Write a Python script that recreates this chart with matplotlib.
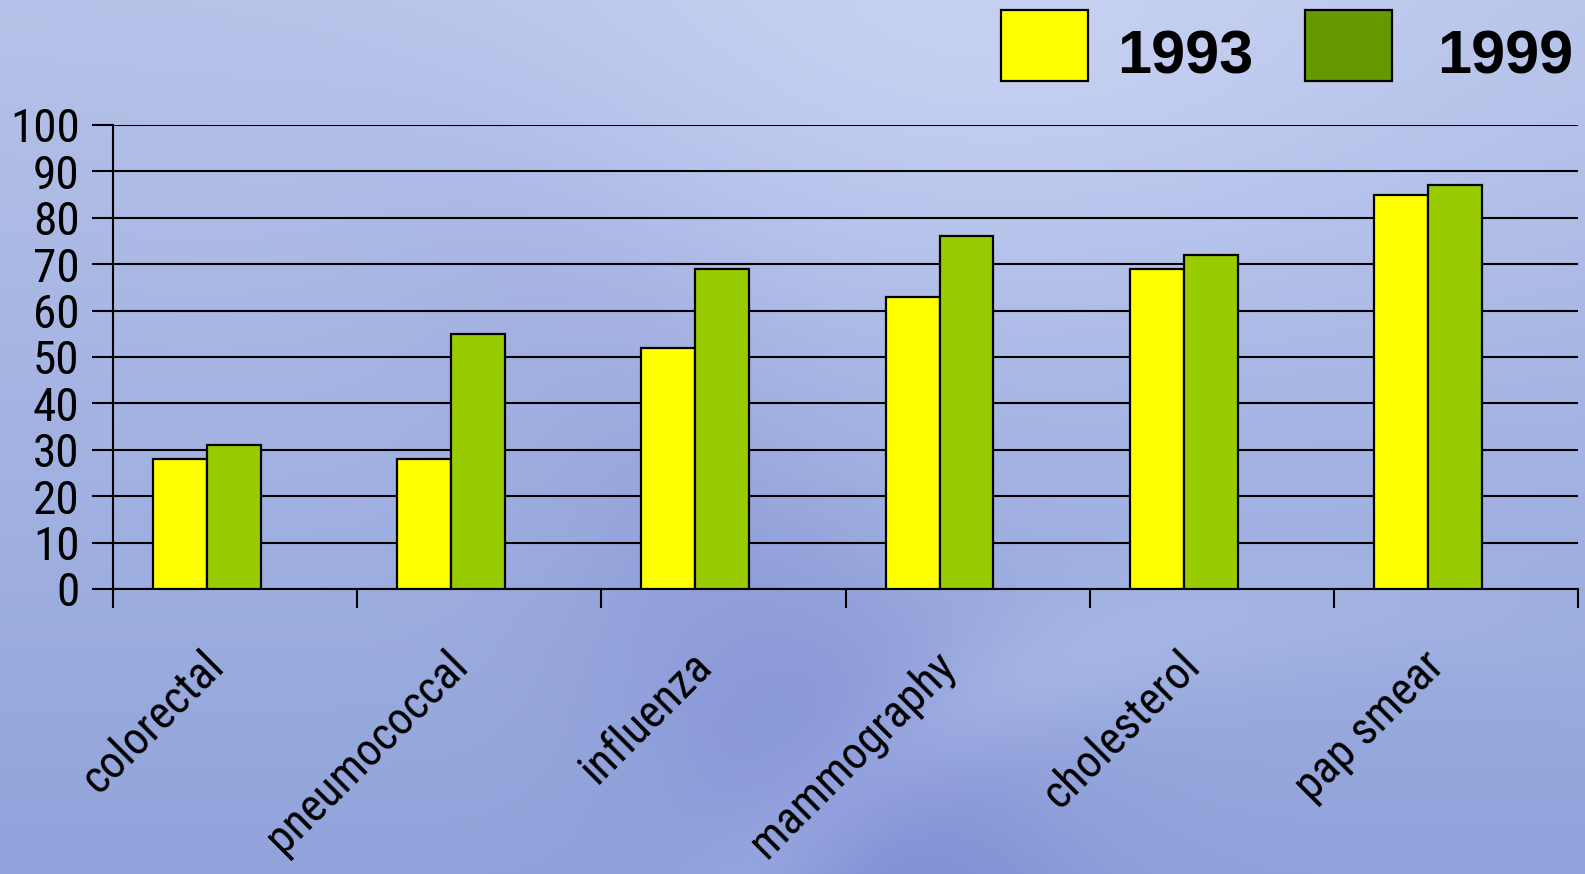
import numpy as np
import matplotlib
matplotlib.use("Agg")
import matplotlib.pyplot as plt
from matplotlib.patches import Rectangle
from matplotlib.transforms import ScaledTranslation

categories = ["colorectal", "pneumococcal", "influenza", "mammography", "cholesterol", "pap smear"]
values_1993 = [28, 28, 52, 63, 69, 85]
values_1999 = [31, 55, 69, 76, 72, 87]
series_labels = ["1993", "1999"]
y_ticks = [0, 10, 20, 30, 40, 50, 60, 70, 80, 90, 100]

W, H = 1585, 874
DPI = 100
fig = plt.figure(figsize=(W / DPI, H / DPI), dpi=DPI)

# ---- decorative background (blue gradient with soft swooshes) ----
yy, xx = np.mgrid[0:H, 0:W].astype(float)
v = yy / H
base_top = np.array([0.71, 0.76, 0.91])
base_bot = np.array([0.57, 0.64, 0.86])
img = base_top[None, None, :] * (1 - v[..., None]) + base_bot[None, None, :] * v[..., None]
d = (xx - 0.55 * yy - 420) / 200.0
band = np.exp(-d ** 2) * np.clip(v * 1.2, 0, 1)
img -= band[..., None] * np.array([0.06, 0.07, 0.03])[None, None, :]
g = np.exp(-(((xx - 1000) / 500.0) ** 2 + ((yy - 60) / 280.0) ** 2))
img += g[..., None] * np.array([0.07, 0.06, 0.04])[None, None, :]
r = np.sqrt((xx - 1350) ** 2 + ((yy - 1300) / 0.9) ** 2)
arc = np.exp(-((r - 760) / 70.0) ** 2) * np.exp(-((xx - 900) / 500.0) ** 2)
img += arc[..., None] * np.array([0.05, 0.05, 0.03])[None, None, :]
img = np.clip(img, 0, 1)
bg = fig.add_axes([0, 0, 1, 1], zorder=-10)
bg.imshow(img, aspect="auto", extent=[0, 1, 0, 1], origin="upper")
bg.axis("off")

narrow = ["Roboto Condensed", "PT Sans Narrow", "Archivo Narrow", "DejaVu Sans"]

# ---- main axes ----
left, right = 113 / W, 1578 / W
bottom, top = 1 - 589 / H, 1 - 125 / H
ax = fig.add_axes([left, bottom, right - left, top - bottom])
ax.patch.set_alpha(0)

x = np.arange(len(categories))
bw = 0.221
shift = -0.115
ax.bar(x + shift - bw / 2, values_1993, bw, color="#FFFF00", edgecolor="black", linewidth=1.6, zorder=3)
ax.bar(x + shift + bw / 2, values_1999, bw, color="#99CC00", edgecolor="black", linewidth=1.6, zorder=3)

ax.set_xlim(-0.5, len(categories) - 0.5)
ax.set_ylim(0, 100)
ax.set_yticks(y_ticks)
ax.set_yticklabels([str(t) for t in y_ticks], family=narrow, fontsize=34)
ax.yaxis.grid(True, color="black", linewidth=1.5, zorder=1)
ax.set_axisbelow(True)
ax.tick_params(axis="y", direction="out", length=15, width=1.5, pad=9, colors="black")

ax.set_xticks(np.arange(len(categories) + 1) - 0.5)
ax.set_xticklabels([])
ax.tick_params(axis="x", direction="out", length=14, width=1.5)

for s in ["top", "right"]:
    ax.spines[s].set_visible(False)
for s in ["left", "bottom"]:
    ax.spines[s].set_linewidth(1.5)
    ax.spines[s].set_color("black")

off = ScaledTranslation(-34 / DPI, -54 / DPI, fig.dpi_scale_trans)
for i, c in enumerate(categories):
    ax.text(i, 0, c, transform=ax.get_xaxis_transform() + off, rotation=45,
            rotation_mode="anchor", ha="right", va="top", family=narrow, fontsize=33)

# ---- legend ----
legend_colors = ["#FFFF00", "#669900"]
sw_x = [1001, 1305]
tx_x = [1117, 1437]
for lab, col, sx, tx in zip(series_labels, legend_colors, sw_x, tx_x):
    fig.patches.append(Rectangle((sx / W, 1 - 81 / H), 87 / W, 71 / H, transform=fig.transFigure,
                                 facecolor=col, edgecolor="black", linewidth=1.6))
    fig.text(tx / W, 1 - 58 / H, lab, ha="left", va="center", fontsize=44,
             fontweight="bold", family=["Liberation Sans", "DejaVu Sans"])

fig.savefig("out.png", dpi=DPI)
